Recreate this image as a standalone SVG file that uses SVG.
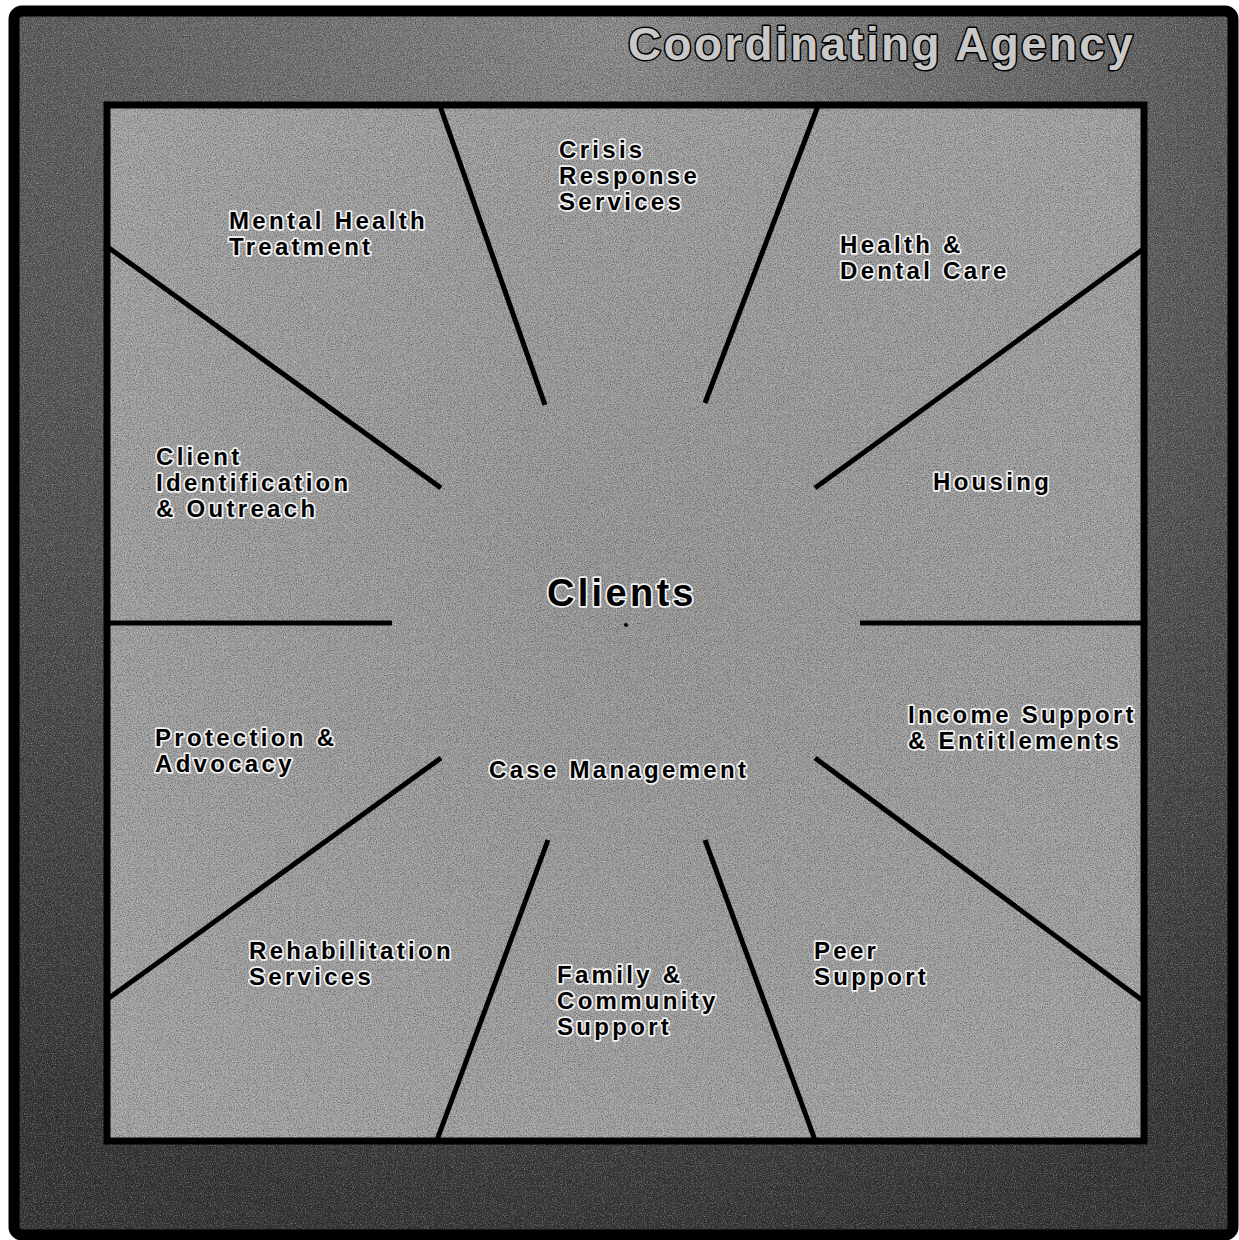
<svg xmlns="http://www.w3.org/2000/svg" width="1239" height="1240" viewBox="0 0 1239 1240">
<defs>
<radialGradient id="outerG" cx="0.5" cy="0.02" r="1.0" gradientUnits="objectBoundingBox">
<stop offset="0" stop-color="#8e8e8e"/>
<stop offset="0.45" stop-color="#5e5e5e"/>
<stop offset="1" stop-color="#333"/>
</radialGradient>
<radialGradient id="innerG" cx="0.5" cy="0.45" r="0.75">
<stop offset="0" stop-color="#979797"/>
<stop offset="1" stop-color="#a6a6a6"/>
</radialGradient>
<filter id="grain" x="0" y="0" width="100%" height="100%">
<feTurbulence type="fractalNoise" baseFrequency="0.85" numOctaves="2" seed="3" result="n"/>
<feColorMatrix in="n" type="matrix" values="0 0 0 0 0  0 0 0 0 0  0 0 0 0 0  0 0 0 -2.2 1.25"/>
</filter>
<filter id="grainW" x="0" y="0" width="100%" height="100%">
<feTurbulence type="fractalNoise" baseFrequency="0.9" numOctaves="2" seed="7" result="n"/>
<feColorMatrix in="n" type="matrix" values="0 0 0 0 1  0 0 0 0 1  0 0 0 0 1  0 0 0 2.2 -1.0"/>
</filter>
</defs>
<style>
.lbl{font-family:"Liberation Sans",Arial,sans-serif;font-weight:bold;font-size:24px;letter-spacing:3.3px;fill:#000;stroke:#f2f2f2;stroke-width:3.5px;stroke-linejoin:round;paint-order:stroke}
.title{font-family:"Liberation Sans",Arial,sans-serif;font-weight:bold;font-size:46px;letter-spacing:2.3px;fill:#c8c8c8;stroke:#000;stroke-width:3px;stroke-linejoin:round;paint-order:stroke}
.big{font-size:38px;letter-spacing:3.3px}
.ray{stroke:#000;stroke-width:5;stroke-linecap:butt;fill:none}
</style>
<rect x="0" y="0" width="1239" height="1240" fill="#fff"/>
<g id="agency">
<rect x="14" y="11" width="1219" height="1224" rx="8" fill="url(#outerG)" stroke="#000" stroke-width="11"/>
<rect x="20" y="17" width="1207" height="1212" fill="#000" filter="url(#grain)" opacity="0.45"/>
<rect x="20" y="17" width="1207" height="1212" fill="#fff" filter="url(#grainW)" opacity="0.35"/>
<text class="title" x="628" y="60">Coordinating Agency</text>
</g>
<g id="clients-area">
<rect x="107" y="105" width="1037" height="1036" fill="url(#innerG)" stroke="#000" stroke-width="7"/>
<rect x="111" y="109" width="1029" height="1028" fill="#000" filter="url(#grain)" opacity="0.4"/>
<rect x="111" y="109" width="1029" height="1028" fill="#fff" filter="url(#grainW)" opacity="0.4"/>
</g>
<g id="connectors">
<line class="ray" x1="440" y1="106" x2="545" y2="405"/>
<line class="ray" x1="818" y1="106" x2="705" y2="403"/>
<line class="ray" x1="109" y1="248" x2="441" y2="488"/>
<line class="ray" x1="1142" y1="250" x2="815" y2="488"/>
<line class="ray" x1="109" y1="623" x2="392" y2="623"/>
<line class="ray" x1="860" y1="623" x2="1142" y2="623"/>
<line class="ray" x1="441" y1="758" x2="109" y2="998"/>
<line class="ray" x1="815" y1="758" x2="1142" y2="1000"/>
<line class="ray" x1="548" y1="840" x2="437" y2="1140"/>
<line class="ray" x1="705" y1="840" x2="815" y2="1140"/>
</g>
<g id="clients">
<text class="lbl big" x="547" y="606">Clients</text>
<circle cx="626" cy="625" r="2" fill="#000"/>
</g>
<g id="case-management"><text class="lbl" x="489" y="778">Case Management</text></g>
<g id="mental-health"><text class="lbl" x="229" y="229">Mental Health</text><text class="lbl" x="229" y="255">Treatment</text></g>
<g id="crisis"><text class="lbl" x="559" y="158">Crisis</text><text class="lbl" x="559" y="184">Response</text><text class="lbl" x="559" y="210">Services</text></g>
<g id="health-dental"><text class="lbl" x="840" y="253">Health &amp;</text><text class="lbl" x="840" y="279">Dental Care</text></g>
<g id="client-id"><text class="lbl" x="156" y="465">Client</text><text class="lbl" x="156" y="491">Identification</text><text class="lbl" x="156" y="517">&amp; Outreach</text></g>
<g id="housing"><text class="lbl" x="933" y="490">Housing</text></g>
<g id="protection"><text class="lbl" x="155" y="746">Protection &amp;</text><text class="lbl" x="155" y="772">Advocacy</text></g>
<g id="income"><text class="lbl" x="908" y="723">Income Support</text><text class="lbl" x="908" y="749">&amp; Entitlements</text></g>
<g id="rehab"><text class="lbl" x="249" y="959">Rehabilitation</text><text class="lbl" x="249" y="985">Services</text></g>
<g id="family"><text class="lbl" x="557" y="983">Family &amp;</text><text class="lbl" x="557" y="1009">Community</text><text class="lbl" x="557" y="1035">Support</text></g>
<g id="peer"><text class="lbl" x="814" y="959">Peer</text><text class="lbl" x="814" y="985">Support</text></g>
</svg>
